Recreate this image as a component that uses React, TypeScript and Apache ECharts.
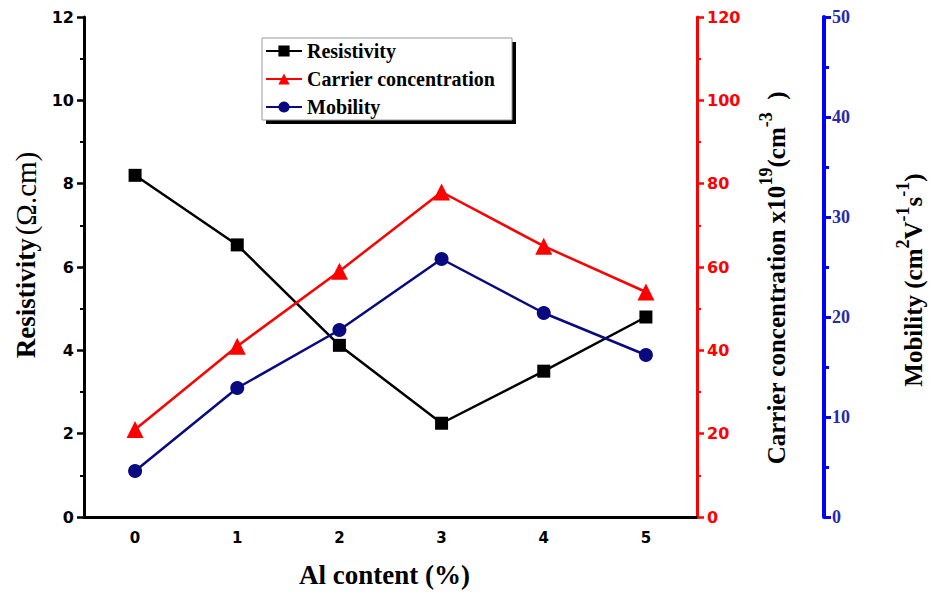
import React, { useEffect, useRef } from 'react';
import * as echarts from 'echarts';

const categories = ['0', '1', '2', '3', '4', '5'];
const resistivity = [8.2, 6.53, 4.12, 2.25, 3.5, 4.8];
const carrier = [21, 41, 59, 78, 65, 54];
const mobility = [4.6, 12.9, 18.7, 25.8, 20.4, 16.2];
const seriesNames = ['Resistivity', 'Carrier concentration', 'Mobility'];

const SERIF = 'Liberation Serif';
const SANS = 'DejaVu Sans';

export default function App() {
  const ref = useRef<HTMLDivElement>(null);
  useEffect(() => {
    if (!ref.current) return;
    const chart = echarts.init(ref.current, null, { renderer: 'svg' });
    const option: any = {
      animation: false,
      backgroundColor: '#ffffff',
      grid: { left: 84, right: 237, top: 17, bottom: 77 },
      graphic: [
        { type: 'rect', z: 1, shape: { x: 266, y: 42, width: 250, height: 82 }, style: { fill: '#000' } },
        { type: 'rect', z: 2, shape: { x: 262, y: 38, width: 250, height: 82 }, style: { fill: '#fff', stroke: '#999', lineWidth: 1 } },
      ],
      legend: {
        data: seriesNames,
        orient: 'vertical',
        left: 265,
        top: 41,
        padding: 0,
        itemWidth: 36,
        itemHeight: 14,
        itemGap: 8,
        z: 10,
        textStyle: { fontFamily: SERIF, fontWeight: 'bold', fontSize: 20, color: '#000' },
      },
      xAxis: [
        {
          type: 'category',
          data: categories,
          position: 'bottom',
          boundaryGap: true,
          axisLine: { lineStyle: { color: '#000', width: 3 } },
          axisTick: { alignWithLabel: true, length: 7, lineStyle: { width: 3, color: '#000' } },
          axisLabel: { fontFamily: SANS, fontWeight: 'bold', fontSize: 15, color: '#000', margin: 13 },
          name: 'Al content (%)',
          nameLocation: 'middle',
          nameGap: 44,
          nameTextStyle: { fontFamily: SERIF, fontWeight: 'bold', fontSize: 27, color: '#000', padding: [0, 12, 0, 0] },
        },
        {
          type: 'category',
          data: categories,
          position: 'top',
          boundaryGap: true,
          axisLine: { lineStyle: { color: '#000', width: 2.5 } },
          axisTick: { alignWithLabel: true, inside: true, length: 7, lineStyle: { width: 2.5, color: '#000' } },
          axisLabel: { show: false },
        },
      ],
      yAxis: [
        {
          type: 'value',
          min: 0, max: 12, interval: 2,
          position: 'left',
          splitLine: { show: false },
          axisLine: { show: true, lineStyle: { color: '#000', width: 3 } },
          axisTick: { show: true, length: 7, lineStyle: { width: 2.5, color: '#000' } },
          minorTick: { show: true, splitNumber: 2, length: 4, lineStyle: { width: 2, color: '#000' } },
          axisLabel: { fontFamily: SANS, fontWeight: 'bold', fontSize: 16, color: '#000', margin: 10 },
          name: '{b|Resistivity} {n|(Ω.cm)}',
          nameLocation: 'middle',
          nameGap: 44,
          nameTextStyle: {
            padding: [0, 0, 0, 24],
            fontFamily: SERIF,
            rich: {
              b: { fontFamily: SERIF, fontWeight: 'bold', fontSize: 27, color: '#000' },
              n: { fontFamily: SERIF, fontWeight: 'normal', fontSize: 29, color: '#000' },
            },
          },
        },
        {
          type: 'value',
          min: 0, max: 120, interval: 20,
          position: 'right',
          splitLine: { show: false },
          axisLine: { show: true, lineStyle: { color: '#ff0000', width: 3 } },
          axisTick: { show: true, length: 7, lineStyle: { width: 2.5, color: '#ff0000' } },
          minorTick: { show: true, splitNumber: 2, length: 4, lineStyle: { width: 2, color: '#ff0000' } },
          axisLabel: { fontFamily: SANS, fontWeight: 'bold', fontSize: 16, color: '#ff0000', margin: 10 },
          name: '{b|Carrier concentration x10}{s|19}{b|(cm}{s|-3}{b|  )}',
          nameLocation: 'middle',
          nameGap: 60,
          nameTextStyle: {
            padding: [0, 22, 0, 0],
            fontFamily: SERIF,
            fontWeight: 'bold',
            rich: {
              b: { fontFamily: SERIF, fontWeight: 'bold', fontSize: 25, color: '#000', lineHeight: 32, verticalAlign: 'bottom' },
              s: { fontFamily: SERIF, fontWeight: 'bold', fontSize: 18, color: '#000', lineHeight: 32, verticalAlign: 'top' },
            },
          },
        },
        {
          type: 'value',
          min: 0, max: 50, interval: 10,
          position: 'right',
          offset: 127,
          splitLine: { show: false },
          axisLine: { show: true, lineStyle: { color: '#0000ff', width: 4 } },
          axisTick: { show: true, length: 7, lineStyle: { width: 3, color: '#0000ff' } },
          minorTick: { show: true, splitNumber: 2, length: 5, lineStyle: { width: 3, color: '#0000ff' } },
          axisLabel: { fontFamily: SERIF, fontWeight: 'bold', fontSize: 18, color: '#2a2aa8', margin: 8 },
          name: '{b|Mobility (cm}{s|2}{b|V}{s|-1}{b|s}{s|-1}{b|)}',
          nameLocation: 'middle',
          nameGap: 70,
          nameTextStyle: {
            padding: [0, 26, 0, 0],
            fontFamily: SERIF,
            fontWeight: 'bold',
            rich: {
              b: { fontFamily: SERIF, fontWeight: 'bold', fontSize: 25, color: '#000', lineHeight: 32, verticalAlign: 'bottom' },
              s: { fontFamily: SERIF, fontWeight: 'bold', fontSize: 18, color: '#000', lineHeight: 32, verticalAlign: 'top' },
            },
          },
        },
      ],
      series: [
        {
          name: seriesNames[0], type: 'line', xAxisIndex: 0, yAxisIndex: 0, data: resistivity,
          symbol: 'rect', symbolSize: 13,
          itemStyle: { color: '#000' }, lineStyle: { color: '#000', width: 2.5 },
        },
        {
          name: seriesNames[1], type: 'line', xAxisIndex: 0, yAxisIndex: 1, data: carrier,
          symbol: 'triangle', symbolSize: 17,
          itemStyle: { color: '#ff0000' }, lineStyle: { color: '#ff0000', width: 2.5 },
        },
        {
          name: seriesNames[2], type: 'line', xAxisIndex: 0, yAxisIndex: 2, data: mobility,
          symbol: 'circle', symbolSize: 14,
          itemStyle: { color: '#0a0a80' }, lineStyle: { color: '#0a0a80', width: 2.5 },
        },
      ],
    };
    chart.setOption(option);
    return () => chart.dispose();
  }, []);
  return <div ref={ref} style={{ position: 'fixed', left: 0, top: 0, width: 934, height: 594 }} />;
}
